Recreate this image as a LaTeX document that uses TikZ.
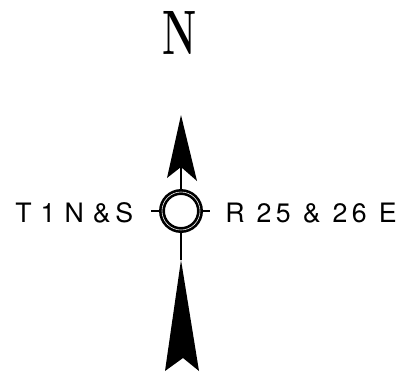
\documentclass[tikz,border=0pt]{standalone}
\usepackage{fontspec}
\newfontfamily\lblfont[LetterSpace=17]{TeX Gyre Heros}
\begin{document}
\begin{tikzpicture}[x=0.025cm,y=-0.025cm,
  lbl/.style={font=\lblfont\fontsize{19}{21}\selectfont,inner sep=0pt,anchor=base west}]
  \useasboundingbox (0,0) rectangle (399,371);
  % north letter
  \node[font=\bfseries\fontsize{44.6}{48}\selectfont,inner sep=0pt] (north) at (180,33)
    {\scalebox{0.62}[1]{N}};
  % ring with ticks
  \node[circle,draw,line width=1.9pt,double=white,double distance=0.4pt,
    minimum size=0.95cm,inner sep=0pt,outer sep=2.1pt] (ring) at (181,211) {};
  \coordinate (wtick) at (151,211); \coordinate (etick) at (210,211);
  \draw[line width=0.8pt] (wtick) -- (ring.west);
  \draw[line width=0.8pt] (ring.east) -- (etick);
  % upper arrow
  \coordinate (ntip) at (181,115); \coordinate (nnotch) at (181,167);
  \fill (ntip) -- (197,181) -- (nnotch) -- (167,178) -- cycle;
  \draw[line width=1pt] (nnotch) -- (ring.north);
  % lower arrow
  \coordinate (stip) at (181,260); \coordinate (snotch) at (183,358);
  \fill (stip) -- (199,371) -- (snotch) -- (165,371) -- cycle;
  \draw[line width=1pt] (ring.south) -- (stip);
  % township and range
  \node[lbl] (twp) at (15,222) {\spaceskip=0.34em T 1 N \&S};
  \node[lbl] (rng) at (225,222) {R 25 \& 26 E};
\end{tikzpicture}
\end{document}
